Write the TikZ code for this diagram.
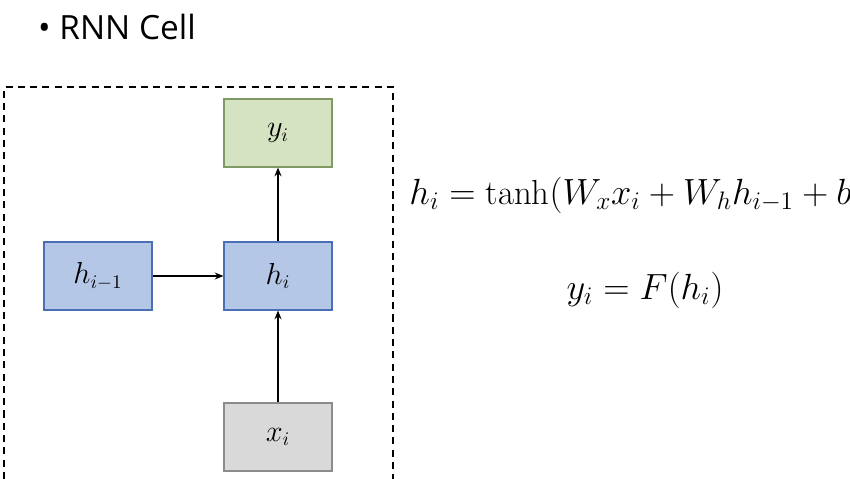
\documentclass[tikz,border=0pt]{standalone}
\usepackage{amsmath}
\usepackage{fontspec}
\newfontfamily\titlefont{Open Sans}
\usetikzlibrary{arrows.meta}
\definecolor{bfill}{HTML}{B4C7E7}\definecolor{bdraw}{HTML}{4A6FB5}
\definecolor{gfill}{HTML}{D5E3C2}\definecolor{gdraw}{HTML}{7F9A65}
\definecolor{xfill}{HTML}{D9D9D9}\definecolor{xdraw}{HTML}{8C8C8C}
\begin{document}
\begin{tikzpicture}[x=0.02cm,y=-0.02cm,
  box/.style={minimum width=2.16cm,minimum height=1.36cm,inner sep=0pt,font=\fontsize{16}{19}\selectfont,line width=0.6pt},
  arr/.style={-{Stealth[length=5pt,width=4pt]},line width=1pt}]
\useasboundingbox (0,0) rectangle (850,479);
\node[anchor=west,font=\titlefont\fontsize{19}{22}\selectfont] (t) at (32,27) {• RNN Cell};
\draw[dash pattern=on 4pt off 3pt,line width=0.8pt] (4,479) -- (4,87) -- (393,87) -- (393,479);
\node[box,fill=gfill,draw=gdraw] (y) at (278,133) {$y_i$};
\node[box,fill=bfill,draw=bdraw] (hp) at (98,276) {$h_{i-1}$};
\node[box,fill=bfill,draw=bdraw] (h) at (278,276) {$h_i$};
\node[box,fill=xfill,draw=xdraw] (x) at (278,437) {$x_i$};
\draw[arr] (hp) -- (h);
\draw[arr] (h) -- (y);
\draw[arr] (x) -- (h);
\node[font=\fontsize{19.8}{23}\selectfont] (e1) at (637,195) {$h_i = \tanh(W_x x_i + W_h h_{i-1} + b)$};
\node[font=\fontsize{19.8}{23}\selectfont] (e2) at (645,290) {$y_i = F(h_i)$};
\end{tikzpicture}
\end{document}
